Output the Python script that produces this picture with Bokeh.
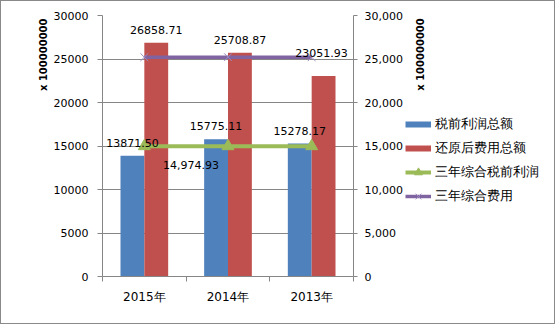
import math
from bokeh.plotting import figure
from bokeh.layouts import row
from bokeh.models import (Range1d, LinearAxis, FixedTicker, Legend, LegendItem, Label, Title,
                          ColumnDataSource, NumeralTickFormatter)
from bokeh.embed import file_html
from bokeh.resources import INLINE
from bokeh.core.properties import value

# ---- data ----
categories = ["2015年", "2014年", "2013年"]
profit = [13871.50, 15775.11, 15278.17]          # 税前利润总额
cost = [26858.71, 25708.87, 23051.93]            # 还原后费用总额
avg_profit = [14974.93, 14974.93, 14974.93]      # 三年综合税前利润
avg_cost = [25206.50, 25206.50, 25206.50]        # 三年综合费用
y_ticks = [0, 5000, 10000, 15000, 20000, 25000, 30000]
series_names = ["税前利润总额", "还原后费用总额", "三年综合税前利润", "三年综合费用"]
axis_unit = "x 100000000"

# ---- styles ----
BLUE, RED, GREEN, PURPLE = "#4F81BD", "#C0504D", "#9BBB59", "#8064A2"
XCOL = "#9C8AC0"
GRID = "#868686"
FONT = "DejaVu Sans"
BAR_W = 0.285
H = 322

n = len(categories)
xs = [i + 0.5 for i in range(n)]
xs_blue = [x - BAR_W / 2 for x in xs]
xs_red = [x + BAR_W / 2 for x in xs]

p = figure(width=404, height=H, output_backend="svg", toolbar_location=None,
           x_range=Range1d(0, n), y_range=Range1d(y_ticks[0], y_ticks[-1]),
           min_border_left=101, min_border_right=50, min_border_top=14, min_border_bottom=47)
p.outline_line_color = None
p.background_fill_color = "white"
p.border_fill_color = "white"

# axes
p.xaxis.ticker = FixedTicker(ticks=xs, minor_ticks=list(range(n + 1)))
p.xaxis.major_label_overrides = {x: c for x, c in zip(xs, categories)}
p.xaxis.major_tick_out = 0
p.xaxis.major_tick_in = 0
p.xaxis.minor_tick_out = 5
p.xaxis.minor_tick_in = 0
p.xaxis.minor_tick_line_color = GRID
p.xaxis.axis_line_color = GRID
p.xaxis.major_label_standoff = 8
p.xaxis.major_label_text_font = FONT
p.xaxis.major_label_text_font_size = "12px"
p.xaxis.major_label_text_color = "black"

p.yaxis.ticker = FixedTicker(ticks=y_ticks, minor_ticks=[])
p.yaxis.major_tick_out = 5
p.yaxis.major_tick_in = 0
p.yaxis.major_tick_line_color = GRID
p.yaxis.axis_line_color = GRID
p.yaxis.major_label_standoff = 9
p.yaxis.major_label_text_font = FONT
p.yaxis.major_label_text_font_size = "11px"
p.yaxis.major_label_text_color = "black"
p.yaxis.formatter = NumeralTickFormatter(format="0")

p.extra_y_ranges = {"r": Range1d(y_ticks[0], y_ticks[-1])}
ra = LinearAxis(y_range_name="r", ticker=FixedTicker(ticks=y_ticks, minor_ticks=[]),
                formatter=NumeralTickFormatter(format="0,0"))
ra.major_tick_out = 4
ra.major_tick_in = 0
ra.major_tick_line_color = GRID
ra.axis_line_color = GRID
ra.major_label_standoff = 7
ra.major_label_text_font = FONT
ra.major_label_text_font_size = "11px"
ra.major_label_text_color = "black"
p.add_layout(ra, "right")

# left unit label (vertical title at the top of the left side)
p.add_layout(Title(text=axis_unit, align="right", text_font=FONT, text_font_size="10px",
                   text_font_style="bold", text_color="black", offset=3, standoff=4), "left")

p.xgrid.grid_line_color = None
p.ygrid.ticker = FixedTicker(ticks=y_ticks)
p.ygrid.grid_line_color = GRID

# bars
p.vbar(x=xs_blue, top=profit, width=BAR_W, fill_color=BLUE, line_color=None)
p.vbar(x=xs_red, top=cost, width=BAR_W, fill_color=RED, line_color=None)

# lines
p.line(xs, avg_profit, line_color=GREEN, line_width=4)
p.scatter(xs, avg_profit, marker="triangle", size=12, fill_color=GREEN, line_color=GREEN)
p.line(xs, avg_cost, line_color=PURPLE, line_width=3.5)
p.scatter(xs, avg_cost, marker="x", size=11, line_color=XCOL, line_width=1)

# data labels
lab_style = dict(text_font=value(FONT), text_font_size="11px", text_color="black",
                 text_align="center", text_baseline="middle")
p.text(x=xs_blue, y=profit, text=[f"{v:.2f}" for v in profit], y_offset=-13, **lab_style)
red_src = ColumnDataSource(dict(x=xs_red, y=cost, t=[f"{v:.2f}" for v in cost],
                                dy=[-13, -13, -23], dx=[0, 0, -2]))
p.text(x="x", y="y", text="t", y_offset="dy", x_offset="dx", source=red_src, **lab_style)
p.text(x=[xs[1]], y=[avg_profit[1]], text=[f"{avg_profit[1]:,.2f}"],
       x_offset=-37, y_offset=19, **lab_style)

# ---- right-hand panel: unit label + legend (its frame is aligned with the main frame) ----
W2 = 149
q = figure(width=W2, height=H, output_backend="svg", toolbar_location=None,
           x_range=Range1d(0, 1), y_range=Range1d(0, 1),
           min_border=0, min_border_left=0, min_border_right=0,
           min_border_top=0, min_border_bottom=0)
q.axis.visible = False
q.grid.visible = False
q.outline_line_color = None
q.background_fill_color = "white"
q.border_fill_color = "white"

nan = float("nan")
pb = q.line([nan], [nan], line_color=BLUE, line_width=6)
pr = q.line([nan], [nan], line_color=RED, line_width=6)
gl = q.line([nan], [nan], line_color=GREEN, line_width=4)
gs = q.scatter([nan], [nan], marker="triangle", size=10, fill_color=GREEN, line_color=GREEN)
pl = q.line([nan], [nan], line_color=PURPLE, line_width=3.5)
ps = q.scatter([nan], [nan], marker="x", size=10, line_color=XCOL, line_width=1)

legend = Legend(items=[LegendItem(label=series_names[0], renderers=[pb]),
                       LegendItem(label=series_names[1], renderers=[pr]),
                       LegendItem(label=series_names[2], renderers=[gl, gs]),
                       LegendItem(label=series_names[3], renderers=[pl, ps])],
                location=(0, 70), glyph_width=26, glyph_height=20, label_height=20,
                spacing=4, padding=0, margin=0, border_line_color=None,
                background_fill_alpha=0, label_text_font=FONT, label_text_font_size="13px",
                label_standoff=4, label_text_color="black")
q.add_layout(legend)

q.add_layout(Label(x=15, y=222, x_units="screen", y_units="screen", text=axis_unit,
                   angle=math.pi / 2, text_align="center", text_baseline="middle",
                   text_font=FONT, text_font_size="10px", text_font_style="bold",
                   text_color="black"))

layout = row(p, q, spacing=0)
layout.styles = {"border": "1px solid #898989"}

open("out.html", "w").write(file_html(layout, INLINE))
